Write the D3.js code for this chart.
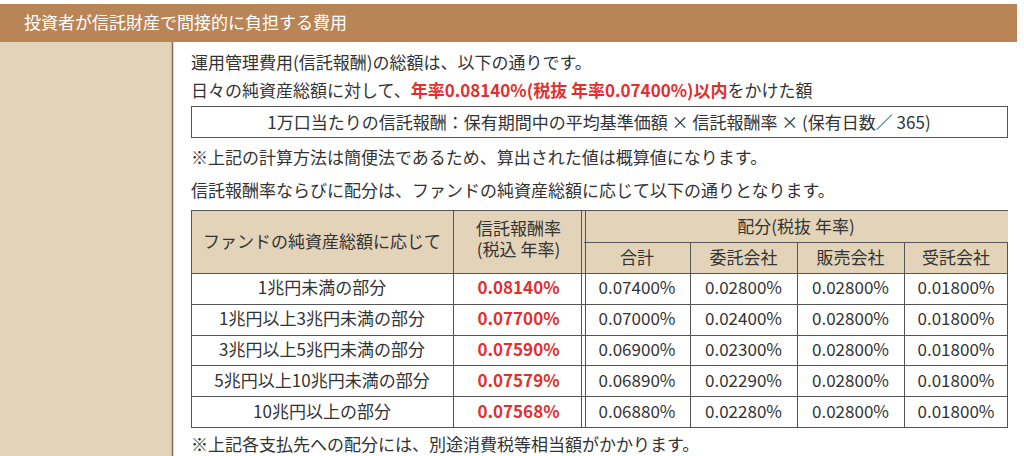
<!DOCTYPE html>
<html><head><meta charset="utf-8">
<script src="https://cdn.jsdelivr.net/npm/d3@7"></script>
<style>body{margin:0;background:#fff}svg{display:block;font-family:"Noto Sans CJK JP",sans-serif}</style>
</head><body><svg id="c" width="1024" height="456"></svg>
<script>
const title = "投資者が信託財産で間接的に負担する費用";
const tiers = ["1兆円未満の部分","1兆円以上3兆円未満の部分","3兆円以上5兆円未満の部分","5兆円以上10兆円未満の部分","10兆円以上の部分"];
const totalRate = ["0.08140%","0.07700%","0.07590%","0.07579%","0.07568%"];
const sumRate = ["0.07400%","0.07000%","0.06900%","0.06890%","0.06880%"];
const itakuRate = ["0.02800%","0.02400%","0.02300%","0.02290%","0.02280%"];
const hanbaiRate = ["0.02800%","0.02800%","0.02800%","0.02800%","0.02800%"];
const jutakuRate = ["0.01800%","0.01800%","0.01800%","0.01800%","0.01800%"];
const subHeaders = ["合計","委託会社","販売会社","受託会社"];

const svg = d3.select("#c");
const brown="#B98556", beige="#E2D3B9", line="#555", red="#E0302F", txt="#333";
const FS=17;
svg.append("rect").attr("x",0).attr("y",4).attr("width",1017).attr("height",38).attr("fill",brown);
svg.append("text").attr("x",24).attr("y",29).attr("fill","#fff").attr("font-size",17).text(title);
svg.append("rect").attr("x",0).attr("y",42).attr("width",172).attr("height",414).attr("fill",beige);
svg.append("line").attr("x1",172.5).attr("x2",172.5).attr("y1",42).attr("y2",456).attr("stroke","#8a6a50").attr("stroke-width",1.5);

const T = (x,y,s,opt={})=>{const t=svg.append("text").attr("x",x).attr("y",y).attr("font-size",opt.fs||FS).attr("fill",opt.fill||txt).attr("text-anchor",opt.anchor||"start");
 if(opt.bold)t.attr("font-weight","bold"); t.text(s); return t;};
T(191,69,"運用管理費用(信託報酬)の総額は、以下の通りです。");
const l2=svg.append("text").attr("x",191).attr("y",97).attr("font-size",FS).attr("fill",txt);
l2.append("tspan").text("日々の純資産総額に対して、");
l2.append("tspan").attr("fill",red).attr("font-weight","bold").text("年率0.08140%(税抜 年率0.07400%)以内");
l2.append("tspan").text("をかけた額");
svg.append("rect").attr("x",191.5).attr("y",106.5).attr("width",816).attr("height",31).attr("fill","none").attr("stroke",line);
T(599,129,"1万口当たりの信託報酬：保有期間中の平均基準価額 × 信託報酬率 × (保有日数／ 365)",{anchor:"middle"});
T(191,164,"※上記の計算方法は簡便法であるため、算出された値は概算値になります。");
T(191,197,"信託報酬率ならびに配分は、ファンドの純資産総額に応じて以下の通りとなります。");

const colEdges=[191,453,584,690,797,904,1008];
const y = d3.scaleBand().domain(d3.range(tiers.length)).range([273,427]);
const cx=i=>(colEdges[i]+colEdges[i+1])/2;
const g=svg.append("g");
g.append("rect").attr("x",191).attr("y",210).attr("width",817).attr("height",63).attr("fill",beige);
const H=(x,yy,s)=>g.append("text").attr("x",x).attr("y",yy).attr("text-anchor","middle").attr("font-size",FS).attr("fill",txt).text(s);
H(cx(0),248,"ファンドの純資産総額に応じて");
H(cx(1),235,"信託報酬率");
H(cx(1),256,"(税込 年率)");
H((colEdges[2]+1008)/2,233,"配分(税抜 年率)");
subHeaders.forEach((s,i)=>H(cx(i+2),264,s));
const cols=[tiers,totalRate,sumRate,itakuRate,hanbaiRate,jutakuRate];
cols.forEach((arr,ci)=>{
  g.selectAll(null).data(arr).join("text").attr("x",cx(ci)).attr("y",(d,i)=>y(i)+y.bandwidth()/2+6)
   .attr("text-anchor","middle").attr("font-size",FS)
   .attr("fill",ci===1?red:txt).attr("font-weight",ci===1?"bold":null).text(d=>d);
});
const L=(x1,y1,x2,y2)=>g.append("line").attr("x1",x1).attr("y1",y1).attr("x2",x2).attr("y2",y2).attr("stroke",line).attr("stroke-width",1);
L(191,210.5,1008,210.5); L(584,242.5,1008,242.5);
d3.range(tiers.length+1).forEach(i=>{const yy=Math.round(y(0)+i*y.bandwidth())+0.5;L(191,yy,1008,yy);});
[191.5,453.5,690.5,797.5,904.5,1007.5].forEach((x,i)=>L(x,i>=2?242:210,x,427.5));
L(581.5,210,581.5,427.5); L(585.5,210,585.5,427.5);
T(191,451,"※上記各支払先への配分には、別途消費税等相当額がかかります。");
</script></body></html>
